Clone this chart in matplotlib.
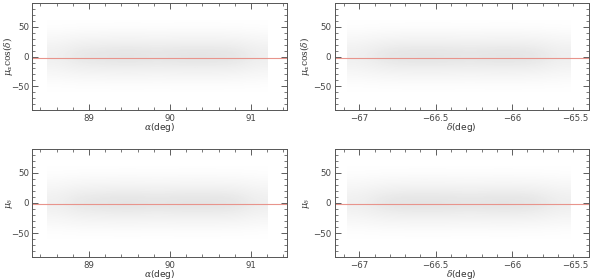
import numpy as np
import matplotlib
matplotlib.use('Agg')
import matplotlib.pyplot as plt
from matplotlib.ticker import MultipleLocator

# point-cloud density (relative, per bin)
y_edges = [-60, -50, -40, -30, -20, -10, 0, 10, 20, 30, 40, 50, 60]
y_dens = [0.05, 0.17, 0.38, 0.62, 0.85, 1.0, 1.0, 0.85, 0.62, 0.38, 0.17, 0.05]

ra_edges = [88.48, 88.7, 88.95, 89.2, 89.45, 89.7, 89.95, 90.2, 90.45, 90.7, 90.95, 91.2]
ra_dens = [0.65, 0.9, 0.95, 1.0, 1.0, 0.95, 1.0, 1.0, 1.0, 0.95, 0.7]

dec_edges = [-67.08, -66.95, -66.8, -66.65, -66.5, -66.35, -66.2, -66.05, -65.9, -65.75, -65.62]
dec_dens = [0.65, 0.9, 1.0, 1.0, 1.0, 0.95, 1.0, 1.0, 0.95, 0.7]

mean_line = -2.0

panels = [
    (ra_edges, ra_dens, (88.3, 91.45), [89, 90, 91], 0.2, r'$\alpha$(deg)', r'$\mu_\alpha\cos(\delta)$'),
    (dec_edges, dec_dens, (-67.16, -65.5), [-67, -66.5, -66, -65.5], 0.1, r'$\delta$(deg)', r'$\mu_\alpha\cos(\delta)$'),
    (ra_edges, ra_dens, (88.3, 91.45), [89, 90, 91], 0.2, r'$\alpha$(deg)', r'$\mu_\delta$'),
    (dec_edges, dec_dens, (-67.16, -65.5), [-67, -66.5, -66, -65.5], 0.1, r'$\delta$(deg)', r'$\mu_\delta$'),
]
rects = [
    [0.054, 0.607, 0.425, 0.382],
    [0.558, 0.607, 0.423, 0.382],
    [0.054, 0.082, 0.425, 0.386],
    [0.558, 0.082, 0.423, 0.386],
]
ylab_x = [-0.07, -0.09, -0.07, -0.09]

plt.rcParams['font.family'] = 'DejaVu Sans'
plt.rcParams['mathtext.fontset'] = 'dejavuserif'
fig = plt.figure(figsize=(6, 2.8), dpi=100)

for (xe, xd, xlim, xt, xminor, xlab, ylab), r, lx in zip(panels, rects, ylab_x):
    ax = fig.add_axes(r)
    dens = np.outer(y_dens, xd)
    ax.imshow(dens, cmap='Greys', vmin=0, vmax=5.5, origin='lower', aspect='auto',
              interpolation='bicubic', extent=(xe[0], xe[-1], y_edges[0], y_edges[-1]))
    ax.axhline(mean_line, color='#e8948c', lw=0.8)
    ax.set_xlim(*xlim)
    ax.set_ylim(-90, 90)
    ax.set_xticks(xt)
    ax.set_xticklabels([('%g' % v).replace('-', '\u2212') for v in xt])
    ax.xaxis.set_minor_locator(MultipleLocator(xminor))
    ax.set_yticks([-50, 0, 50])
    ax.set_yticklabels(['\u221250', '0', '50'])
    ax.yaxis.set_minor_locator(MultipleLocator(10))
    ax.tick_params(which='both', direction='in', top=True, right=True, labelsize=6.2, pad=2.5, colors='#444444')
    ax.tick_params(which='major', length=4, width=0.6)
    ax.tick_params(which='minor', length=2, width=0.5)
    for s in ax.spines.values():
        s.set_linewidth(0.7)
        s.set_color('#555555')
    ax.set_xlabel(xlab, fontsize=6.5, color='#333333')
    ax.set_ylabel(ylab, fontsize=6.5, color='#333333')
    ax.xaxis.set_label_coords(0.5, -0.105)
    ax.yaxis.set_label_coords(lx, 0.5)
    # last tick label sits at the figure edge; keep it inside
    last = ax.get_xticklabels()[-1]
    if xt[-1] == xlim[1]:
        last.set_horizontalalignment('right')
        last.set_x(xlim[1])

plt.savefig('out.png', dpi=100)
